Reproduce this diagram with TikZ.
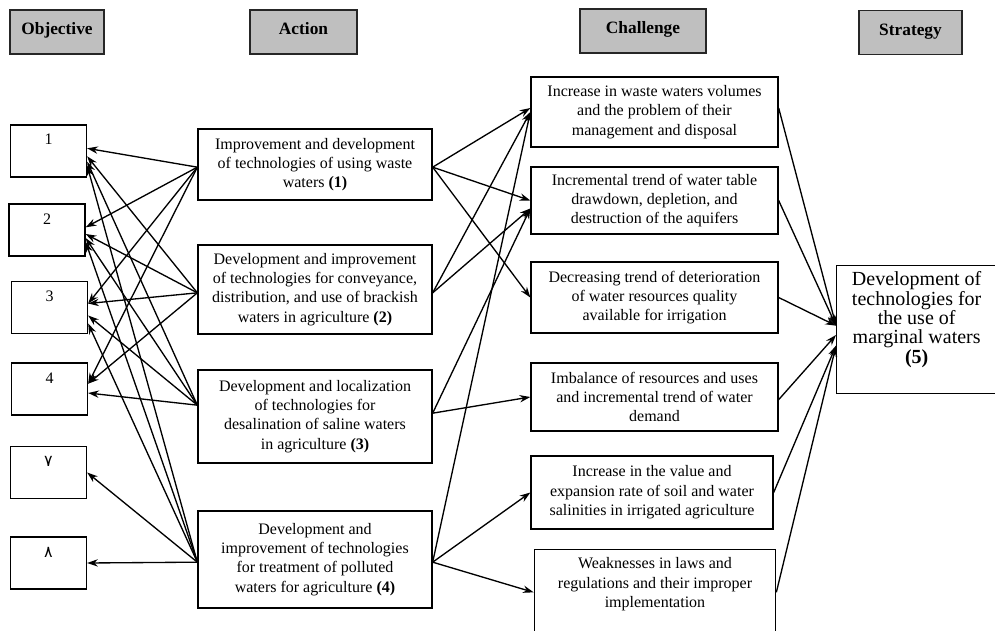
\documentclass[tikz,border=0pt]{standalone}
\usepackage{fontspec}
\setmainfont{Liberation Serif}
\newfontfamily\persianfont[Script=Arabic]{DejaVu Sans}
\usetikzlibrary{arrows.meta}

\begin{document}
\begin{tikzpicture}[x=0.75pt, y=-0.75pt, >={Stealth[length=8pt,width=5.5pt]},
    every node/.style={font=\fontsize{12}{14.5}\selectfont, align=center, line width=1pt},
    headbox/.style={draw=black!85, fill=black!25, line width=1.3pt, font=\fontsize{13}{15}\selectfont\bfseries, minimum height=33pt, text height=9pt, text depth=5pt},
    objbox/.style={draw, minimum width=57pt, text height=12pt, text depth=21pt, inner ysep=3pt},
    actbox/.style={draw, minimum width=175.5pt},
    chalbox/.style={draw, minimum width=185.25pt},
    link/.style={->, line width=1pt}]
    \useasboundingbox (0,0) rectangle (995,631);

    % column headers
    \node[headbox, minimum width=70.5pt] (hobj)   at (57,32)    {Objective};
    \node[headbox, minimum width=80.25pt] (hact)  at (303.5,32) {Action};
    \node[headbox, minimum width=94.5pt] (hchal)  at (643,31)   {Challenge};
    \node[headbox, minimum width=77.25pt] (hstrat) at (910.5,32.5) {Strategy};

    % objectives
    \node[objbox] (obj1) at (48.5,151)   {1};
    \node[objbox] (obj2) at (47,230)     {2};
    \node[objbox] (obj3) at (49.5,307.5) {3};
    \node[objbox] (obj4) at (49.5,389)   {4};
    \node[objbox] (obj7) at (48.5,472.5) {\persianfont ۷};
    \node[objbox] (obj8) at (48.5,563)   {\persianfont ۸};

    % actions
    \node[actbox, minimum height=53.25pt] (act1) at (315,164.5) {Improvement and development\\of technologies of using waste\\waters \textbf{(1)}};
    \node[actbox, minimum height=66.75pt] (act2) at (315,289.5) {Development and improvement\\of technologies for conveyance,\\distribution, and use of brackish\\waters in agriculture \textbf{(2)}};
    \node[actbox, minimum height=69.75pt] (act3) at (315,416.5) {Development and localization\\of technologies for\\desalination of saline waters\\in agriculture \textbf{(3)}};
    \node[actbox, minimum height=72.75pt] (act4) at (315,559.5) {Development and\\improvement of technologies\\for treatment of polluted\\waters for agriculture \textbf{(4)}};

    % challenges
    \node[chalbox, minimum height=52.5pt] (chal1) at (654.5,112) {Increase in waste waters volumes\\and the problem of their\\management and disposal};
    \node[chalbox, minimum height=50.25pt] (chal2) at (654.5,200.5) {Incremental trend of water table\\drawdown, depletion, and\\destruction of the aquifers};
    \node[chalbox, minimum height=53.25pt] (chal3) at (654.5,297.5) {Decreasing trend of deterioration\\of water resources quality\\available for irrigation};
    \node[chalbox, minimum height=51pt] (chal4) at (654.5,397) {Imbalance of resources and uses\\and incremental trend of water\\demand};
    \node[chalbox, minimum width=181.5pt, minimum height=54.75pt] (chal5) at (652,492.5) {Increase in the value and\\expansion rate of soil and water\\salinities in irrigated agriculture};
    \node[draw, anchor=north, inner xsep=2pt, inner ysep=6pt] (chal6) at (655,549) {\parbox[t][70pt][t]{177pt}{\centering Weaknesses in laws and\\regulations and their improper\\implementation}};

    % strategy
    \node[draw, anchor=north west, inner xsep=2pt, inner ysep=4.5pt] (strat) at (836,265) {\parbox[t][87pt][t]{116pt}{\centering\fontsize{15}{14.5}\selectfont Development of\\technologies for\\the use of\\marginal waters\\\textbf{(5)}}};

    % actions -> objectives
    \draw[link] ([yshift=-2pt]act1.west) -- ([yshift=2pt]obj1.east);
    \draw[link] ([yshift=-2pt]act1.west) -- ([yshift=2pt]obj2.east);
    \draw[link] ([yshift=-2pt]act1.west) -- ([yshift=3pt]obj3.east);
    \draw[link] ([yshift=-2pt]act1.west) -- ([yshift=4pt]obj4.east);
    \draw[link] ([yshift=-2.5pt]act2.west) -- ([yshift=-4pt]obj1.east);
    \draw[link] ([yshift=-2.5pt]act2.west) -- ([yshift=-3pt]obj2.east);
    \draw[link] ([yshift=-2.5pt]act2.west) -- ([yshift=3pt]obj3.east);
    \draw[link] ([yshift=-2.5pt]act2.west) -- ([yshift=4pt]obj4.east);
    \draw[link] ([yshift=8.5pt]act3.west) -- ([yshift=-8pt]obj1.east);
    \draw[link] ([yshift=8.5pt]act3.west) -- ([yshift=-6pt]obj2.east);
    \draw[link] ([yshift=8.5pt]act3.west) -- ([yshift=-6pt]obj3.east);
    \draw[link] ([yshift=8.5pt]act3.west) -- ([yshift=-3pt]obj4.east);
    \draw[link] ([yshift=-2pt]act4.west) -- ([yshift=-11pt]obj1.east);
    \draw[link] ([yshift=-2pt]act4.west) -- ([yshift=-9pt]obj2.east);
    \draw[link] ([yshift=-2pt]act4.west) -- ([yshift=-12pt]obj3.east);
    \draw[link] ([yshift=-2pt]act4.west) -- (obj7.east);
    \draw[link] ([yshift=-2pt]act4.west) -- (obj8.east);

    % actions -> challenges
    \draw[link] ([yshift=-2pt]act1.east) -- ([yshift=3pt]chal1.west);
    \draw[link] ([yshift=-2pt]act1.east) -- (chal2.west);
    \draw[link] ([yshift=-2pt]act1.east) -- (chal3.west);
    \draw[link] ([yshift=-2.5pt]act2.east) -- (chal1.west);
    \draw[link] ([yshift=-2.5pt]act2.east) -- ([yshift=-6pt]chal2.west);
    \draw[link] ([yshift=2.5pt]act3.east) -- ([yshift=-6pt]chal2.west);
    \draw[link] ([yshift=2.5pt]act3.east) -- (chal4.west);
    \draw[link] ([yshift=-2pt]act4.east) -- (chal1.west);
    \draw[link] ([yshift=-2pt]act4.east) -- (chal5.west);
    \draw[link] ([yshift=-2pt]act4.east) -- ([yshift=9pt]chal6.west);

    % challenges -> strategy
    \draw[link] ([yshift=3pt]chal1.east) -- ([yshift=3pt]strat.west);
    \draw[link] (chal2.east) -- ([yshift=3pt]strat.west);
    \draw[link] (chal3.east) -- ([yshift=3pt]strat.west);
    \draw[link] ([yshift=-2pt]chal4.east) -- ([yshift=-4pt]strat.west);
    \draw[link] (chal5.east) -- ([yshift=-12pt]strat.west);
    \draw[link] ([yshift=9pt]chal6.east) -- ([yshift=-12pt]strat.west);
\end{tikzpicture}
\end{document}
